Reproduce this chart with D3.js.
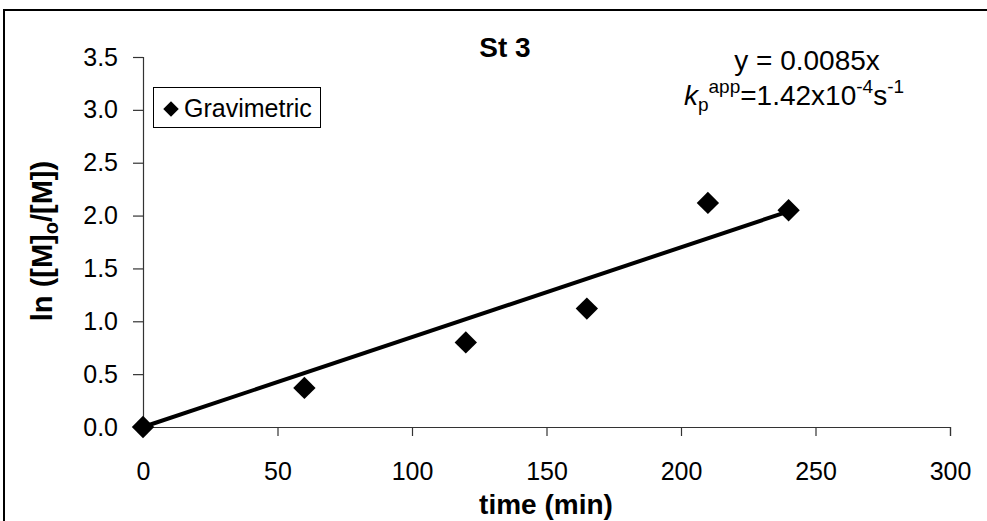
<!DOCTYPE html>
<html><head><meta charset="utf-8">
<script src="https://cdn.jsdelivr.net/npm/d3@7"></script>
<style>body{margin:0;background:#fff}svg{display:block;font-family:Arial,"Liberation Sans",sans-serif}</style>
</head><body>
<svg id="c" width="987" height="521"></svg>
<script>
const timeMin = [0, 60, 120, 165, 210, 240];
const lnRatio = [0, 0.37, 0.80, 1.12, 2.12, 2.05];
const slope = 0.0085;
const fitRange = [0, 240];
const xTicks = [0, 50, 100, 150, 200, 250, 300];
const yTicks = [0, 0.5, 1.0, 1.5, 2.0, 2.5, 3.0, 3.5];
const titleText = "St 3";
const seriesName = "Gravimetric";

const svg = d3.select("#c");
const x = d3.scaleLinear().domain([0, 300]).range([143, 950]);
const y = d3.scaleLinear().domain([0, 3.5]).range([427, 57]);

// outer frame
svg.append("path").attr("d", "M4,530 V10 H1000").attr("fill", "none").attr("stroke", "#000").attr("stroke-width", 2);

// axes
const xa = svg.append("g").attr("transform", `translate(0,${y(0)})`)
  .call(d3.axisBottom(x).tickValues(xTicks).tickSize(9).tickFormat(d3.format("d")));
const ya = svg.append("g").attr("transform", `translate(${x(0)},0)`)
  .call(d3.axisLeft(y).tickValues(yTicks).tickSize(10).tickPadding(15).tickFormat(d3.format(".1f")));
[xa, ya].forEach(g => {
  g.select(".domain").attr("stroke", "#333").attr("stroke-width", 1.2);
  g.selectAll(".tick line").attr("stroke", "#333").attr("stroke-width", 1.2);
  g.selectAll(".tick text").attr("font-size", 25).attr("fill", "#000").attr("font-family", "Arial, Liberation Sans, sans-serif");
});
xa.selectAll(".tick text").attr("y", 53).attr("dy", "0");

// fit line
svg.append("line")
  .attr("x1", x(fitRange[0])).attr("y1", y(slope * fitRange[0]))
  .attr("x2", x(fitRange[1])).attr("y2", y(slope * fitRange[1]))
  .attr("stroke", "#000").attr("stroke-width", 4);

// markers
svg.selectAll("path.pt").data(timeMin).join("path").attr("class", "pt")
  .attr("d", d3.symbol().type(d3.symbolSquare).size(250)())
  .attr("transform", (d, i) => `translate(${x(d)},${y(lnRatio[i])}) rotate(45)`)
  .attr("fill", "#000");

// title
svg.append("text").attr("x", 505).attr("y", 57).attr("text-anchor", "middle")
  .attr("font-size", 28).attr("font-weight", "bold").text(titleText);

// equation
svg.append("text").attr("x", 807).attr("y", 70).attr("text-anchor", "middle")
  .attr("font-size", 28).text("y = " + slope + "x");
const eq2 = svg.append("text").attr("x", 794).attr("y", 105).attr("text-anchor", "middle").attr("font-size", 28);
eq2.append("tspan").attr("font-style", "italic").text("k");
eq2.append("tspan").attr("font-size", 19).attr("dy", 6).text("p");
eq2.append("tspan").attr("font-size", 19).attr("dy", -18).text("app");
eq2.append("tspan").attr("dy", 12).text("=1.42x10");
eq2.append("tspan").attr("font-size", 19).attr("dy", -12).text("-4");
eq2.append("tspan").attr("dy", 12).text("s");
eq2.append("tspan").attr("font-size", 19).attr("dy", -12).text("-1");

// legend
svg.append("rect").attr("x", 153.5).attr("y", 87.5).attr("width", 167).attr("height", 40)
  .attr("fill", "#fff").attr("stroke", "#000").attr("stroke-width", 1);
svg.append("path").attr("d", d3.symbol().type(d3.symbolSquare).size(120)())
  .attr("transform", "translate(171,109) rotate(45)").attr("fill", "#000");
svg.append("text").attr("x", 184).attr("y", 117).attr("font-size", 25).text(seriesName);

// axis titles
svg.append("text").attr("x", 546).attr("y", 514).attr("text-anchor", "middle")
  .attr("font-size", 28).attr("font-weight", "bold").text("time (min)");
const yl = svg.append("text").attr("transform", "translate(52,241) rotate(-90)")
  .attr("text-anchor", "middle").attr("font-size", 29).attr("font-weight", "bold");
yl.append("tspan").text("ln ([M]");
yl.append("tspan").attr("font-size", 20).attr("dy", 6).text("o");
yl.append("tspan").attr("dy", -6).text("/[M])");
</script>
</body></html>
